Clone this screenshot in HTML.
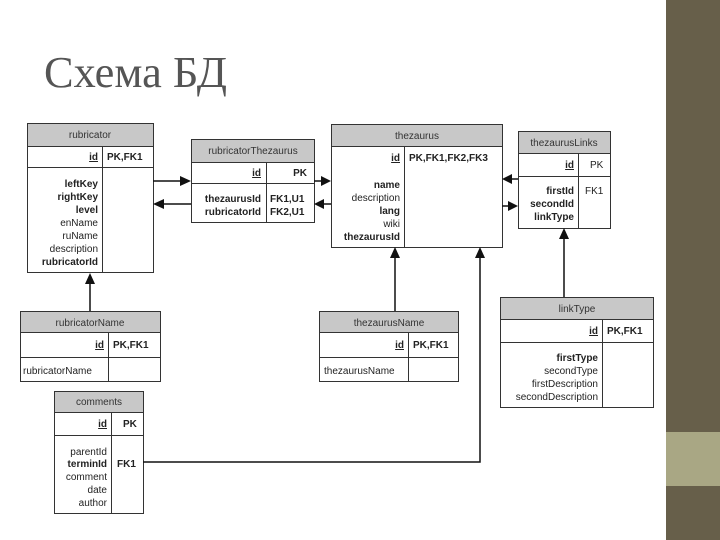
<!DOCTYPE html>
<html><head><meta charset="utf-8"><style>
html,body{margin:0;padding:0;background:#fff;}
svg{display:block;}
text{font-family:"Liberation Sans",sans-serif;font-size:10px;fill:#222;}
.b{font-weight:bold;}
.h{fill:#333;}
</style></head><body>
<svg width="720" height="540" viewBox="0 0 720 540" xmlns="http://www.w3.org/2000/svg">
<rect x="666" y="0" width="54" height="540" fill="#675f4a"/>
<rect x="666" y="432" width="54" height="54" fill="#a9a784"/>
<text x="44" y="87" style="font-family:'Liberation Serif',serif;font-size:44px;fill:#555" textLength="183" lengthAdjust="spacingAndGlyphs">Схема БД</text>

<g fill="none" stroke="#333" stroke-width="1">
<rect x="27.5" y="123.5" width="126" height="23" fill="#c8c8c8"/>
<rect x="27.5" y="123.5" width="126" height="149"/>
<line x1="27.5" y1="167.5" x2="153.5" y2="167.5"/>
<line x1="102.5" y1="146.5" x2="102.5" y2="272.5"/>
<rect x="191.5" y="139.5" width="123" height="23" fill="#c8c8c8"/>
<rect x="191.5" y="139.5" width="123" height="83"/>
<line x1="191.5" y1="183.5" x2="314.5" y2="183.5"/>
<line x1="266.5" y1="162.5" x2="266.5" y2="222.5"/>
<rect x="331.5" y="124.5" width="171" height="22" fill="#c8c8c8"/>
<rect x="331.5" y="124.5" width="171" height="123"/>
<line x1="404.5" y1="146.5" x2="404.5" y2="247.5"/>
<rect x="518.5" y="131.5" width="92" height="22" fill="#c8c8c8"/>
<rect x="518.5" y="131.5" width="92" height="97"/>
<line x1="518.5" y1="176.5" x2="610.5" y2="176.5"/>
<line x1="578.5" y1="153.5" x2="578.5" y2="228.5"/>
<rect x="20.5" y="311.5" width="140" height="21" fill="#c8c8c8"/>
<rect x="20.5" y="311.5" width="140" height="70"/>
<line x1="20.5" y1="357.5" x2="160.5" y2="357.5"/>
<line x1="108.5" y1="332.5" x2="108.5" y2="381.5"/>
<rect x="319.5" y="311.5" width="139" height="21" fill="#c8c8c8"/>
<rect x="319.5" y="311.5" width="139" height="70"/>
<line x1="319.5" y1="357.5" x2="458.5" y2="357.5"/>
<line x1="408.5" y1="332.5" x2="408.5" y2="381.5"/>
<rect x="54.5" y="391.5" width="89" height="21" fill="#c8c8c8"/>
<rect x="54.5" y="391.5" width="89" height="122"/>
<line x1="54.5" y1="435.5" x2="143.5" y2="435.5"/>
<line x1="111.5" y1="412.5" x2="111.5" y2="513.5"/>
<rect x="500.5" y="297.5" width="153" height="22" fill="#c8c8c8"/>
<rect x="500.5" y="297.5" width="153" height="110"/>
<line x1="500.5" y1="342.5" x2="653.5" y2="342.5"/>
<line x1="602.5" y1="319.5" x2="602.5" y2="407.5"/>
</g>

<g stroke="#111" stroke-width="1.5" fill="none">
<line x1="153" y1="181" x2="182" y2="181"/>
<line x1="191" y1="204" x2="162" y2="204"/>
<line x1="314" y1="181" x2="322" y2="181"/>
<line x1="331" y1="204" x2="323" y2="204"/>
<line x1="518" y1="179" x2="511" y2="179"/>
<line x1="502" y1="206" x2="509" y2="206"/>
<line x1="90" y1="311" x2="90" y2="282"/>
<line x1="395" y1="311" x2="395" y2="256"/>
<polyline points="143,462 480,462 480,256"/>
<line x1="564" y1="297" x2="564" y2="237"/>
</g>
<g fill="#111">
<polygon points="191,181 180,176 180,186"/>
<polygon points="153,204 164,199 164,209"/>
<polygon points="331,181 321,176 321,186"/>
<polygon points="314,204 324,199 324,209"/>
<polygon points="502,179 512,174 512,184"/>
<polygon points="518,206 508,201 508,211"/>
<polygon points="90,273 85,284 95,284"/>
<polygon points="395,247 390,258 400,258"/>
<polygon points="480,247 475,258 485,258"/>
<polygon points="564,228 559,239 569,239"/>
</g>

<text class="h" x="90" y="138" text-anchor="middle">rubricator</text>
<text class="b" x="98" y="160" text-anchor="end" text-decoration="underline">id</text>
<text class="b" x="107" y="160">PK,FK1</text>
<g text-anchor="end">
<text class="b" x="98" y="187">leftKey</text>
<text class="b" x="98" y="200">rightKey</text>
<text class="b" x="98" y="213">level</text>
<text x="98" y="226">enName</text>
<text x="98" y="239">ruName</text>
<text x="98" y="252">description</text>
<text class="b" x="98" y="265">rubricatorId</text>
</g>

<text class="h" x="253" y="154" text-anchor="middle">rubricatorThezaurus</text>
<text class="b" x="261" y="176" text-anchor="end" text-decoration="underline">id</text>
<text class="b" x="307" y="176" text-anchor="end">PK</text>
<text class="b" x="261" y="202" text-anchor="end">thezaurusId</text>
<text class="b" x="261" y="215" text-anchor="end">rubricatorId</text>
<text class="b" x="270" y="202">FK1,U1</text>
<text class="b" x="270" y="215">FK2,U1</text>

<text class="h" x="417" y="139" text-anchor="middle">thezaurus</text>
<text class="b" x="400" y="161" text-anchor="end" text-decoration="underline">id</text>
<text class="b" x="409" y="161">PK,FK1,FK2,FK3</text>
<g text-anchor="end">
<text class="b" x="400" y="188">name</text>
<text x="400" y="201">description</text>
<text class="b" x="400" y="214">lang</text>
<text x="400" y="227">wiki</text>
<text class="b" x="400" y="240">thezaurusId</text>
</g>

<text class="h" x="564" y="146" text-anchor="middle">thezaurusLinks</text>
<text class="b" x="574" y="168" text-anchor="end" text-decoration="underline">id</text>
<text x="590" y="168">PK</text>
<g text-anchor="end">
<text class="b" x="574" y="194">firstId</text>
<text class="b" x="574" y="207">secondId</text>
<text class="b" x="574" y="220">linkType</text>
</g>
<text x="585" y="194">FK1</text>

<text class="h" x="90" y="326" text-anchor="middle">rubricatorName</text>
<text class="b" x="104" y="348" text-anchor="end" text-decoration="underline">id</text>
<text class="b" x="113" y="348">PK,FK1</text>
<text x="23" y="374">rubricatorName</text>

<text class="h" x="389" y="326" text-anchor="middle">thezaurusName</text>
<text class="b" x="404" y="348" text-anchor="end" text-decoration="underline">id</text>
<text class="b" x="413" y="348">PK,FK1</text>
<text x="324" y="374">thezaurusName</text>

<text class="h" x="99" y="405" text-anchor="middle">comments</text>
<text class="b" x="107" y="427" text-anchor="end" text-decoration="underline">id</text>
<text class="b" x="123" y="427">PK</text>
<g text-anchor="end">
<text x="107" y="455">parentId</text>
<text class="b" x="107" y="467">terminId</text>
<text x="107" y="480">comment</text>
<text x="107" y="493">date</text>
<text x="107" y="506">author</text>
</g>
<text class="b" x="117" y="467">FK1</text>

<text class="h" x="577" y="312" text-anchor="middle">linkType</text>
<text class="b" x="598" y="334" text-anchor="end" text-decoration="underline">id</text>
<text class="b" x="607" y="334">PK,FK1</text>
<g text-anchor="end">
<text class="b" x="598" y="361">firstType</text>
<text x="598" y="374">secondType</text>
<text x="598" y="387">firstDescription</text>
<text x="598" y="400">secondDescription</text>
</g>
</svg>
</body></html>
